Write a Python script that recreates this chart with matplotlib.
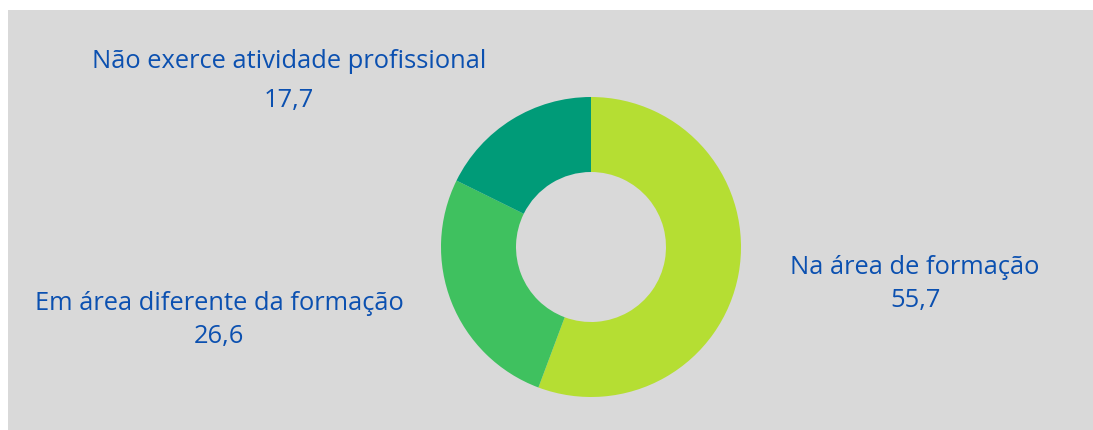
import matplotlib.pyplot as plt
from matplotlib.patches import Rectangle

categorias = ["Na área de formação", "Em área diferente da formação", "Não exerce atividade profissional"]
valores = [55.7, 26.6, 17.7]
rotulos = ["55,7", "26,6", "17,7"]
cores = ["#b5de33", "#3fc15f", "#009b78"]

azul = "#0b50b0"
fundo = "#d9d9d9"

W, H = 1093, 430
fig = plt.figure(figsize=(W / 100, H / 100), dpi=100)
fig.patch.set_facecolor("white")
fig.patches.append(Rectangle((8 / W, 0), 1 - 8 / W, 1 - 10 / H, transform=fig.transFigure,
                             facecolor=fundo, edgecolor="none", zorder=-5))

# eixo do donut em pixels: centro (591, 247), raio 150
cx, cy, r = 591, 247, 150
ax = fig.add_axes([(cx - r) / W, (H - cy - r) / H, 2 * r / W, 2 * r / H])
ax.pie(valores, colors=cores, startangle=90, counterclock=False, radius=1,
       wedgeprops=dict(width=0.5, edgecolor="none"))
ax.set_xlim(-1, 1)
ax.set_ylim(-1, 1)
ax.set_aspect("equal")
ax.axis("off")

# posicoes dos rotulos (pixels)
pos = [(915, 268, 300), (219, 304, 336), (289, 62, 100)]
for nome, rot, (x, y1, y2) in zip(categorias, rotulos, pos):
    fig.text(x / W, 1 - y1 / H, nome, ha="center", va="center", color=azul,
             fontsize=18.4, family="Open Sans")
    fig.text(x / W, 1 - y2 / H, rot, ha="center", va="center", color=azul,
             fontsize=18.4, family="Open Sans")

fig.savefig("out.png", dpi=100, facecolor=fig.get_facecolor())
